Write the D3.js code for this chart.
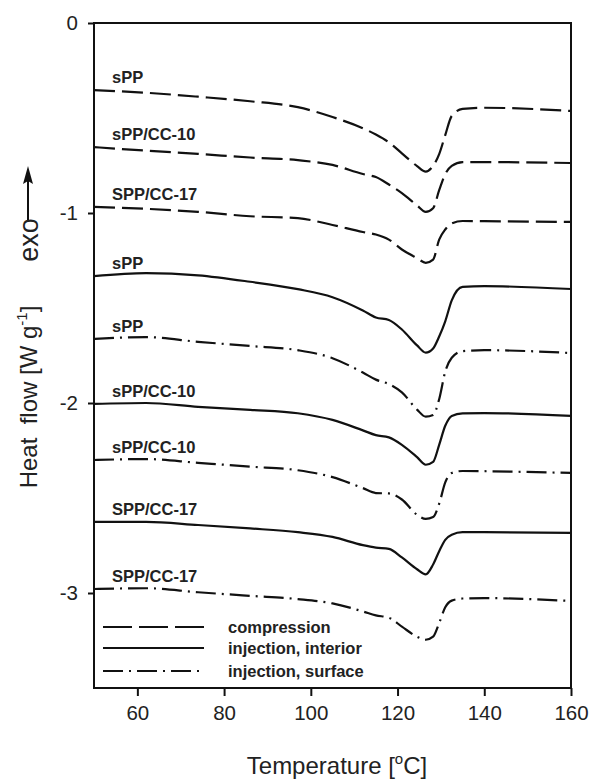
<!DOCTYPE html>
<html>
<head>
<meta charset="utf-8">
<script src="https://cdn.jsdelivr.net/npm/d3@7"></script>
<style>
  body { margin: 0; background: #fff; }
  svg { font-family: "Liberation Sans", Arial, sans-serif; }
</style>
</head>
<body>
<div id="chart"></div>
<script>
// temperature grid (deg C) shared by all traces
const temps = [50, 62, 74, 86, 97, 105, 112, 115, 118, 121, 124.5, 126.5, 128.2, 129.6, 131, 132.5, 135, 140, 160];

// heat flow (W/g)
const compSPP    = [-0.353, -0.367, -0.388, -0.412, -0.443, -0.495, -0.554, -0.587, -0.628, -0.686, -0.753, -0.782, -0.752, -0.690, -0.590, -0.489, -0.452, -0.446, -0.463];
const compCC10   = [-0.653, -0.672, -0.689, -0.708, -0.722, -0.747, -0.795, -0.811, -0.850, -0.895, -0.960, -0.994, -0.975, -0.880, -0.795, -0.752, -0.732, -0.732, -0.737];
const compCC17   = [-0.968, -0.978, -0.994, -1.017, -1.027, -1.063, -1.100, -1.113, -1.140, -1.192, -1.238, -1.262, -1.245, -1.140, -1.087, -1.055, -1.042, -1.043, -1.047];
const intSPP     = [-1.332, -1.316, -1.328, -1.362, -1.401, -1.443, -1.513, -1.550, -1.563, -1.613, -1.697, -1.735, -1.713, -1.650, -1.570, -1.460, -1.389, -1.385, -1.400];
const surfSPP    = [-1.663, -1.653, -1.678, -1.700, -1.722, -1.764, -1.840, -1.877, -1.900, -1.944, -2.035, -2.072, -2.063, -1.980, -1.835, -1.762, -1.727, -1.722, -1.737];
const intCC10    = [-2.005, -2.000, -2.020, -2.036, -2.054, -2.089, -2.144, -2.169, -2.181, -2.220, -2.285, -2.325, -2.310, -2.220, -2.120, -2.068, -2.055, -2.053, -2.068];
const surfCC10   = [-2.300, -2.295, -2.315, -2.335, -2.354, -2.390, -2.448, -2.474, -2.476, -2.508, -2.588, -2.610, -2.600, -2.530, -2.418, -2.368, -2.358, -2.359, -2.368];
const intCC17    = [-2.626, -2.626, -2.642, -2.660, -2.680, -2.705, -2.748, -2.761, -2.768, -2.813, -2.875, -2.902, -2.850, -2.780, -2.720, -2.693, -2.680, -2.680, -2.684];
const surfCC17   = [-2.979, -2.975, -2.996, -3.015, -3.032, -3.055, -3.097, -3.118, -3.130, -3.177, -3.230, -3.246, -3.230, -3.158, -3.075, -3.040, -3.029, -3.027, -3.042];

const labels = ["sPP", "sPP/CC-10", "SPP/CC-17", "sPP", "sPP", "sPP/CC-10", "sPP/CC-10", "SPP/CC-17", "SPP/CC-17"];
const kinds  = ["comp", "comp", "comp", "int", "surf", "int", "surf", "int", "surf"];
const seriesValues = [compSPP, compCC10, compCC17, intSPP, surfSPP, intCC10, surfCC10, intCC17, surfCC17];

const legendNames = ["compression", "injection, interior", "injection, surface"];
const legendKinds = ["comp", "int", "surf"];

const xTicks = [60, 80, 100, 120, 140, 160];
const yTicks = [0, -1, -2, -3];

const W = 590, H = 780;
const m = { left: 94, right: 571, top: 23, bottom: 688 };

const dash = { comp: "21,7", int: null, surf: "20,6,2,6" };

const svg = d3.select("#chart").append("svg")
  .attr("width", W)
  .attr("height", H);

const x = d3.scaleLinear().domain([50, 160]).range([m.left, m.right]);
const y = d3.scaleLinear().domain([-3.5, 0]).range([m.bottom, m.top]);

// curves
const line = d3.line()
  .x((d, i) => x(temps[i]))
  .y(d => y(d))
  .curve(d3.curveMonotoneX);

seriesValues.forEach((vals, k) => {
  svg.append("path")
    .datum(vals)
    .attr("fill", "none")
    .attr("stroke", "#111")
    .attr("stroke-width", 2.2)
    .attr("stroke-dasharray", dash[kinds[k]])
    .attr("d", line);

  svg.append("text")
    .attr("x", x(50) + 18)
    .attr("y", y(vals[0]) - 7)
    .attr("font-size", 16.5)
    .attr("font-weight", "bold")
    .attr("fill", "#222")
    .text(labels[k]);
});

// frame
svg.append("rect")
  .attr("x", m.left).attr("y", m.top)
  .attr("width", m.right - m.left).attr("height", m.bottom - m.top)
  .attr("fill", "none")
  .attr("stroke", "#111")
  .attr("stroke-width", 2);

// axes
const xAxis = svg.append("g")
  .attr("transform", `translate(0,${m.bottom})`)
  .call(d3.axisBottom(x).tickValues(xTicks).tickSize(8).tickSizeOuter(0).tickPadding(9));

const yAxis = svg.append("g")
  .attr("transform", `translate(${m.left},0)`)
  .call(d3.axisLeft(y).tickValues(yTicks).tickSize(6).tickSizeOuter(0).tickPadding(10)
    .tickFormat(d => String(d)));

[xAxis, yAxis].forEach(g => {
  g.select(".domain").remove();
  g.selectAll(".tick line").attr("stroke", "#111").attr("stroke-width", 2);
  g.selectAll(".tick text")
    .attr("font-size", 20.5)
    .attr("fill", "#222")
    .attr("font-family", "Liberation Sans, Arial, sans-serif");
});

// legend
legendNames.forEach((name, i) => {
  const ly = [627, 648, 671][i];
  svg.append("line")
    .attr("x1", 103).attr("x2", 204)
    .attr("y1", ly).attr("y2", ly)
    .attr("stroke", "#111")
    .attr("stroke-width", 2.2)
    .attr("stroke-dasharray", legendKinds[i] == "comp" ? "29,7" : dash[legendKinds[i]]);
  svg.append("text")
    .attr("x", 228).attr("y", ly + 6)
    .attr("font-size", 16.5)
    .attr("font-weight", "bold")
    .attr("fill", "#222")
    .text(name);
});

// axis titles
const xt = svg.append("text")
  .attr("x", 337).attr("y", 774)
  .attr("text-anchor", "middle")
  .attr("font-size", 24)
  .attr("fill", "#222");
xt.append("tspan").text("Temperature [");
xt.append("tspan").attr("font-size", 15).attr("dy", -10).text("o");
xt.append("tspan").attr("dy", 10).text("C]");

const yt = svg.append("text")
  .attr("transform", "translate(37,397) rotate(-90)")
  .attr("text-anchor", "middle")
  .attr("font-size", 24)
  .attr("fill", "#222")
  .attr("xml:space", "preserve");
yt.append("tspan").text("Heat  flow [W g");
yt.append("tspan").attr("font-size", 15).attr("dy", -10).text("-1");
yt.append("tspan").attr("dy", 10).text("]");

// exo arrow
svg.append("text")
  .attr("transform", "translate(38,240) rotate(-90)")
  .attr("text-anchor", "middle")
  .attr("font-size", 27)
  .attr("fill", "#222")
  .text("exo");

svg.append("line")
  .attr("x1", 28).attr("x2", 28)
  .attr("y1", 220).attr("y2", 180)
  .attr("stroke", "#111").attr("stroke-width", 2);
svg.append("path")
  .attr("d", "M28,166 L23,184 L28,181 L33,184 Z")
  .attr("fill", "#111");
</script>
</body>
</html>
